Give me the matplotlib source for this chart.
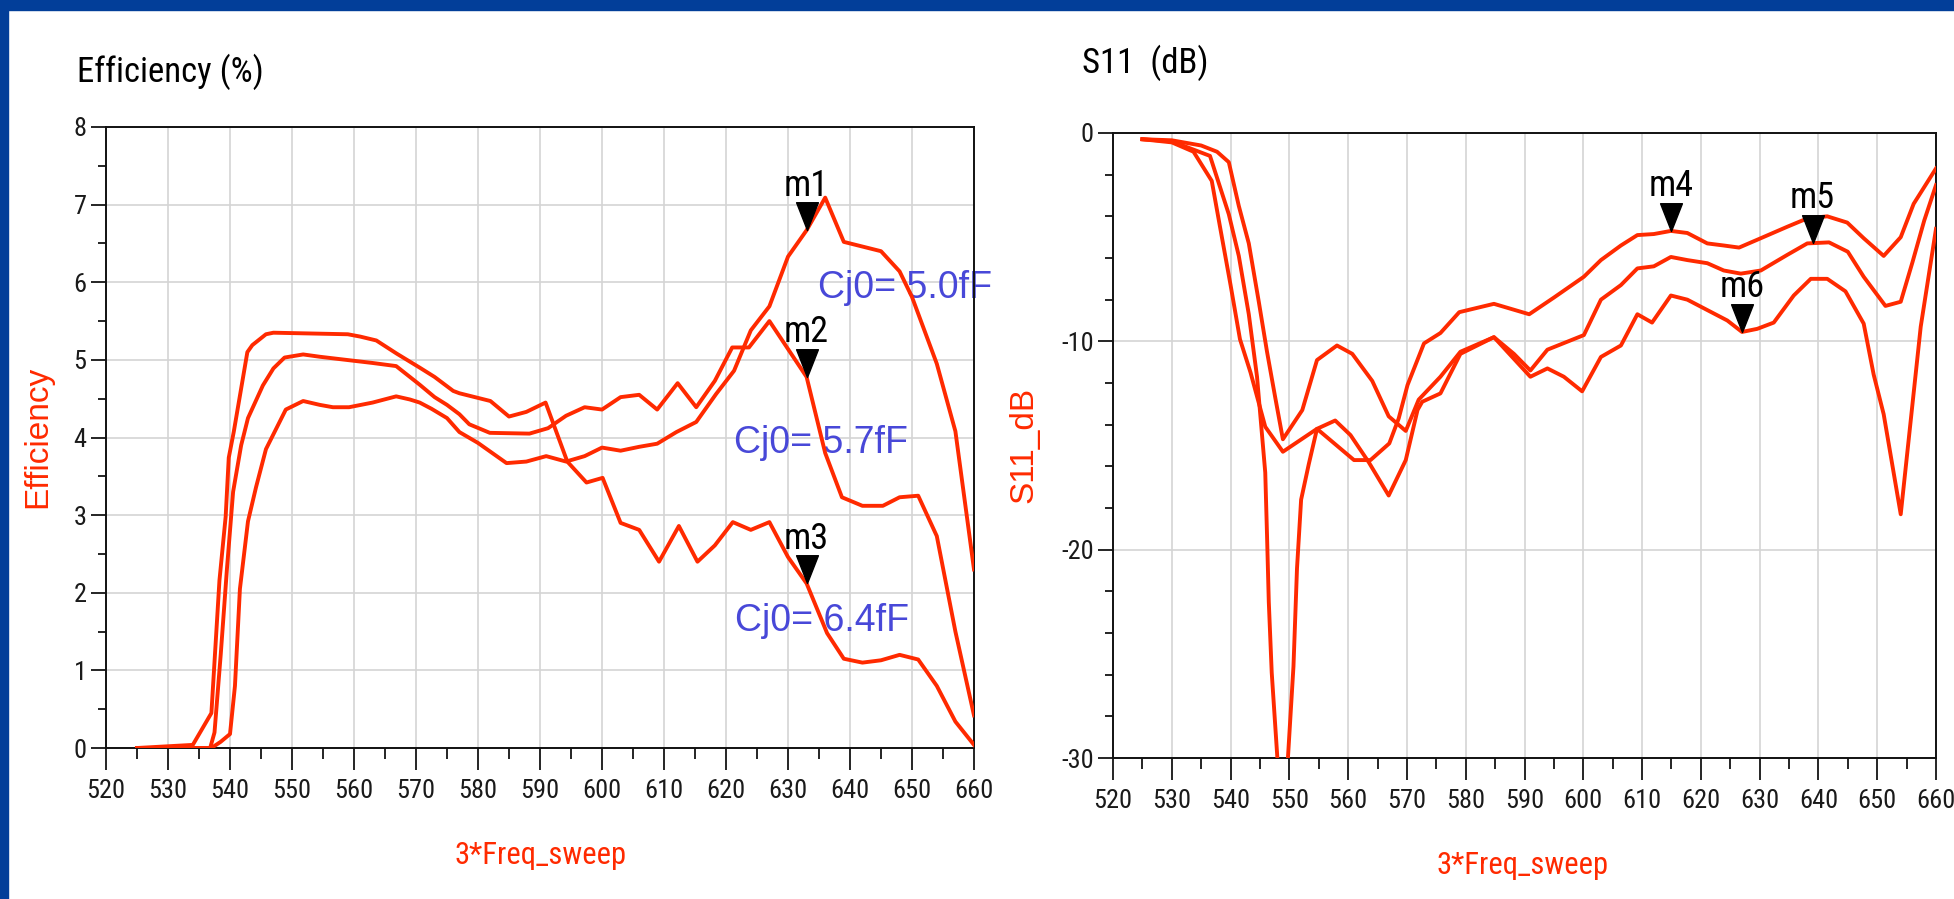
import matplotlib
matplotlib.use("Agg")
import numpy as np
import matplotlib.pyplot as plt
from matplotlib import font_manager
from matplotlib.path import Path
from matplotlib.patches import Rectangle
from matplotlib.ticker import MultipleLocator

plt.rcParams['axes.unicode_minus'] = False

# efficiency (%) vs 3*Freq_sweep, one curve per Cj0
f_cj50 = [525, 537, 538.5, 540, 540.8, 541.6, 542.9, 544.2, 545.8, 549,
          551.8, 554.5, 556.6, 559.2, 563, 566.8, 569, 570.6, 572.5, 575,
          577, 580, 584.6, 587.8, 591, 594.2, 597.2, 600, 603, 606,
          608.9, 612, 615.2, 618.4, 621.3, 624, 627, 630, 633, 636,
          639, 642, 645, 648, 650, 654, 657, 660]
eff_cj50 = [0, 0, 0.08, 0.18, 0.8, 2.05, 2.92, 3.36, 3.85, 4.36,
            4.47, 4.42, 4.39, 4.39, 4.45, 4.53, 4.49, 4.45, 4.37, 4.25,
            4.07, 3.93, 3.67, 3.69, 3.76, 3.69, 3.76, 3.87, 3.83, 3.88,
            3.92, 4.07, 4.2, 4.56, 4.86, 5.38, 5.69, 6.33, 6.67, 7.09,
            6.52, 6.46, 6.4, 6.14, 5.81, 4.95, 4.08, 2.3]

f_cj57 = [525, 536.8, 537.5, 538.5, 539.5, 540.5, 541.8, 542.9, 545.3, 547,
          548.8, 551.8, 554.5, 559.8, 563, 566.8, 570.6, 573, 575, 577,
          578.6, 581.9, 588.3, 591.3, 594.2, 597.2, 600, 603, 606, 608.9,
          612.2, 615.2, 618.2, 621, 623.7, 627, 633, 636, 638.7, 642,
          645.3, 648, 651, 654, 657, 660]
eff_cj57 = [0, 0, 0.2, 1.2, 2.3, 3.3, 3.9, 4.25, 4.67, 4.89,
            5.03, 5.07, 5.04, 4.99, 4.96, 4.92, 4.68, 4.52, 4.42, 4.3,
            4.17, 4.06, 4.05, 4.12, 4.28, 4.39, 4.36, 4.52, 4.55, 4.36,
            4.7, 4.39, 4.73, 5.16, 5.16, 5.5, 4.78, 3.8, 3.23, 3.12,
            3.12, 3.23, 3.25, 2.73, 1.5, 0.42]

f_cj64 = [525, 534, 537, 538.3, 539.3, 539.8, 540.6, 542.8, 543.6, 545.8,
          547, 559, 561, 563.6, 566.9, 570.6, 573, 576, 577, 582,
          585, 587.8, 590.9, 594.4, 597.5, 600.1, 603, 606, 609.2, 612.4,
          615.4, 618.2, 621.1, 624, 627, 630, 633, 636.3, 639, 642,
          645, 648, 651, 654, 657, 660]
eff_cj64 = [0, 0.04, 0.45, 2.16, 2.98, 3.74, 4.07, 5.1, 5.19, 5.33,
            5.35, 5.33, 5.3, 5.25, 5.08, 4.9, 4.78, 4.6, 4.57, 4.47,
            4.27, 4.33, 4.45, 3.69, 3.42, 3.48, 2.9, 2.81, 2.4, 2.86,
            2.4, 2.61, 2.91, 2.81, 2.91, 2.46, 2.12, 1.48, 1.15, 1.1,
            1.13, 1.2, 1.14, 0.8, 0.34, 0.04]

# S11 (dB) curves
f_s11_a = [525, 530, 533.7, 536.8, 538.2, 540, 541.6, 543.4, 545.9, 548.9,
           554.7, 561, 563.8, 567, 568.6, 570.1, 572.9, 575.7, 578.9, 584.8,
           590.8, 595, 600.1, 603, 606.4, 609.2, 612, 614.9, 617.7, 621.1,
           623.9, 626.5, 630.2, 634.7, 638.1, 641.5, 644.9, 647.7, 651.1, 654,
           656.2, 660]
s11_a = [-0.3, -0.45, -0.9, -2.3, -4.5, -7.3, -9.9, -11.5, -14.1, -15.3,
         -14.2, -15.7, -15.7, -14.9, -13.7, -12.1, -10.1, -9.6, -8.6, -8.2,
         -8.7, -7.9, -6.9, -6.1, -5.4, -4.9, -4.85, -4.7, -4.8, -5.3,
         -5.4, -5.5, -5.05, -4.5, -4.1, -4.0, -4.3, -5.05, -5.9, -5.0,
         -3.4, -1.7]

f_s11_b = [525, 530, 535, 537.7, 539.7, 541.4, 543.1, 544.8, 546.2, 547.6,
           548.9, 552.2, 554.7, 558.1, 560.7, 564.1, 566.9, 569.8, 572, 575.7,
           579.1, 584.8, 588.2, 591, 593.9, 600.1, 603, 606.4, 609.2, 612,
           614.9, 617.7, 621.1, 623.9, 626.8, 630.2, 634.7, 638.1, 641.8, 645,
           647.7, 651.4, 654, 656, 658, 660]
s11_b = [-0.3, -0.35, -0.6, -0.9, -1.4, -3.5, -5.3, -8.1, -10.5, -12.7,
         -14.7, -13.3, -10.9, -10.2, -10.6, -11.9, -13.6, -14.3, -12.8, -11.7,
         -10.5, -9.8, -10.6, -11.4, -10.4, -9.7, -8.0, -7.3, -6.5, -6.4,
         -5.95, -6.1, -6.25, -6.6, -6.75, -6.6, -5.85, -5.3, -5.25, -5.7,
         -6.9, -8.3, -8.1, -6.2, -4.2, -2.5]

f_s11_c = [525, 530, 536.5, 539.7, 541.4, 543.1, 544.5, 545.9, 546.2, 546.5,
           547, 548.9, 550.7, 551.3, 552, 553.3, 554.7, 557.8, 560.4, 563.5,
           566.9, 569.8, 571.8, 572.6, 575.7, 579.1, 584.8, 591, 593.9, 596.7,
           599.8, 603, 606.4, 609.2, 611.7, 614.9, 617.7, 621.1, 624.5, 627,
           629.6, 632.4, 635.8, 638.7, 641.5, 644.6, 647.7, 649.4, 651.1, 654,
           657.4, 660]
s11_c = [-0.3, -0.4, -1.1, -3.9, -5.9, -8.7, -11.7, -16.3, -19.3, -22.5,
         -25.9, -34, -25.6, -20.9, -17.6, -15.9, -14.2, -13.8, -14.5, -15.8,
         -17.4, -15.7, -13.3, -12.9, -12.5, -10.6, -9.8, -11.7, -11.3, -11.7,
         -12.4, -10.75, -10.2, -8.7, -9.1, -7.8, -8.0, -8.5, -9.0, -9.55,
         -9.4, -9.1, -7.8, -7.0, -7.0, -7.6, -9.15, -11.6, -13.5, -18.3,
         -9.3, -4.6]

cj_labels = ['Cj0= 5.0fF', 'Cj0= 5.7fF', 'Cj0= 6.4fF']
eff_markers = ['m1', 'm2', 'm3']
eff_marker_f = 633
s11_markers = ['m4', 'm5', 'm6']
s11_marker_f = [614.9, 639, 627]

RED = '#FF2A00'
BLUE = '#4848D8'
FRAME = '#023E99'
GRID = '#D4D4D4'

# narrow font like the ADS plot, fall back if missing
fonts = font_manager.fontManager.ttflist
names = {f.name for f in fonts}
NARROW = {'family': 'Liberation Sans'}
for cand in ['Liberation Sans Narrow', 'Roboto Condensed', 'Open Sans Condensed']:
    if cand in names:
        NARROW = {'family': cand}
        break
else:
    if any(f.name == 'DejaVu Sans' and f.stretch == 'condensed' for f in fonts):
        NARROW = {'family': 'DejaVu Sans', 'stretch': 'condensed'}
WIDE = 'Liberation Sans'

W, H = 1954, 899
fig = plt.figure(figsize=(W / 100, H / 100), dpi=100)
fig.patch.set_facecolor('white')


def px_box(x0, y0, x1, y1):
    return [x0 / W, 1 - y1 / H, (x1 - x0) / W, (y1 - y0) / H]


ax1 = fig.add_axes(px_box(106, 127, 974, 748))
ax2 = fig.add_axes(px_box(1113, 133, 1936, 758))

# triangle with its tip at the origin, so the tip sits on the data point
tri = Path([(-11, 28), (11, 28), (0, 0), (-11, 28)],
           [Path.MOVETO, Path.LINETO, Path.LINETO, Path.CLOSEPOLY])


def style_axes(ax, ymin, ymax, ymajor, yminor):
    ax.set_xlim(520, 660)
    ax.set_ylim(ymin, ymax)
    ax.xaxis.set_major_locator(MultipleLocator(10))
    ax.xaxis.set_minor_locator(MultipleLocator(5))
    ax.yaxis.set_major_locator(MultipleLocator(ymajor))
    ax.yaxis.set_minor_locator(MultipleLocator(yminor))
    ax.grid(True, which='major', color=GRID, lw=1.2, zorder=0)
    ax.set_axisbelow(True)
    for s in ax.spines.values():
        s.set_color('#111111')
        s.set_linewidth(1.4)
    ax.tick_params(axis='x', which='major', length=16, width=1.2, pad=6,
                   labelsize=19, labelcolor='#1a1a1a')
    ax.tick_params(axis='x', which='minor', length=8, width=1.2)
    ax.tick_params(axis='y', which='major', length=11, width=1.2, pad=3,
                   labelsize=19, labelcolor='#1a1a1a')
    ax.tick_params(axis='y', which='minor', length=6, width=1.2)
    for lab in ax.get_xticklabels() + ax.get_yticklabels():
        lab.set_fontfamily(NARROW['family'])
        if 'stretch' in NARROW:
            lab.set_fontstretch(NARROW['stretch'])


def add_marker(ax, name, x, y):
    ax.plot([x], [y], marker=tri, markersize=40, color='black', ls='none',
            zorder=5, clip_on=False)
    ax.annotate(name, (x, y), xytext=(0, 25), textcoords='offset points',
                ha='center', va='baseline', fontsize=26, color='black',
                zorder=6, **NARROW)


# ---- Efficiency ----
eff_f = [f_cj50, f_cj57, f_cj64]
eff_v = [eff_cj50, eff_cj57, eff_cj64]
for f, v in zip(eff_f, eff_v):
    ax1.plot(f, v, color=RED, lw=2.8, zorder=3)
style_axes(ax1, 0, 8, 1, 0.5)

for name, f, v in zip(eff_markers, eff_f, eff_v):
    add_marker(ax1, name, eff_marker_f, np.interp(eff_marker_f, f, v))

ax1.text(634.8, 5.93, cj_labels[0], color=BLUE, fontsize=27, family=WIDE,
         va='center', ha='left', zorder=2, clip_on=False)
ax1.text(621.3, 3.93, cj_labels[1], color=BLUE, fontsize=27, family=WIDE,
         va='center', ha='left', zorder=2)
ax1.text(621.5, 1.63, cj_labels[2], color=BLUE, fontsize=27, family=WIDE,
         va='center', ha='left', zorder=2)

# ---- S11 ----
s11_f = [f_s11_a, f_s11_b, f_s11_c]
s11_v = [s11_a, s11_b, s11_c]
for f, v in zip(s11_f, s11_v):
    ax2.plot(f, v, color=RED, lw=2.8, zorder=3)
style_axes(ax2, -30, 0, 10, 2)

for name, fm_, f, v in zip(s11_markers, s11_marker_f, s11_f, s11_v):
    add_marker(ax2, name, fm_, np.interp(fm_, f, v))

# titles and axis labels placed in figure pixels
fig.text(77 / W, 1 - 82 / H, 'Efficiency (%)', fontsize=25, color='black',
         ha='left', va='baseline', **NARROW)
fig.text(1082 / W, 1 - 73 / H, 'S11  (dB)', fontsize=25, color='black',
         ha='left', va='baseline', **NARROW)
fig.text(38 / W, 1 - 437 / H, 'Efficiency', fontsize=24, color=RED, family=WIDE,
         rotation=90, ha='center', va='center')
fig.text(1024 / W, 1 - 445 / H, 'S11_dB', fontsize=24, color=RED, family=WIDE,
         rotation=90, ha='center', va='center')
fig.text(541 / W, 1 - 855 / H, '3*Freq_sweep', fontsize=22, color=RED,
         ha='center', va='center', **NARROW)
fig.text(1523 / W, 1 - 866 / H, '3*Freq_sweep', fontsize=22, color=RED,
         ha='center', va='center', **NARROW)

# slide frame: blue bands on top and left
fig.patches.append(Rectangle((0, 1 - 10 / H), 1, 10 / H, transform=fig.transFigure,
                             color=FRAME, zorder=10))
fig.patches.append(Rectangle((0, 0), 7.7 / W, 1, transform=fig.transFigure,
                             color=FRAME, zorder=10))

fig.savefig('out.png', dpi=100, facecolor='white')
